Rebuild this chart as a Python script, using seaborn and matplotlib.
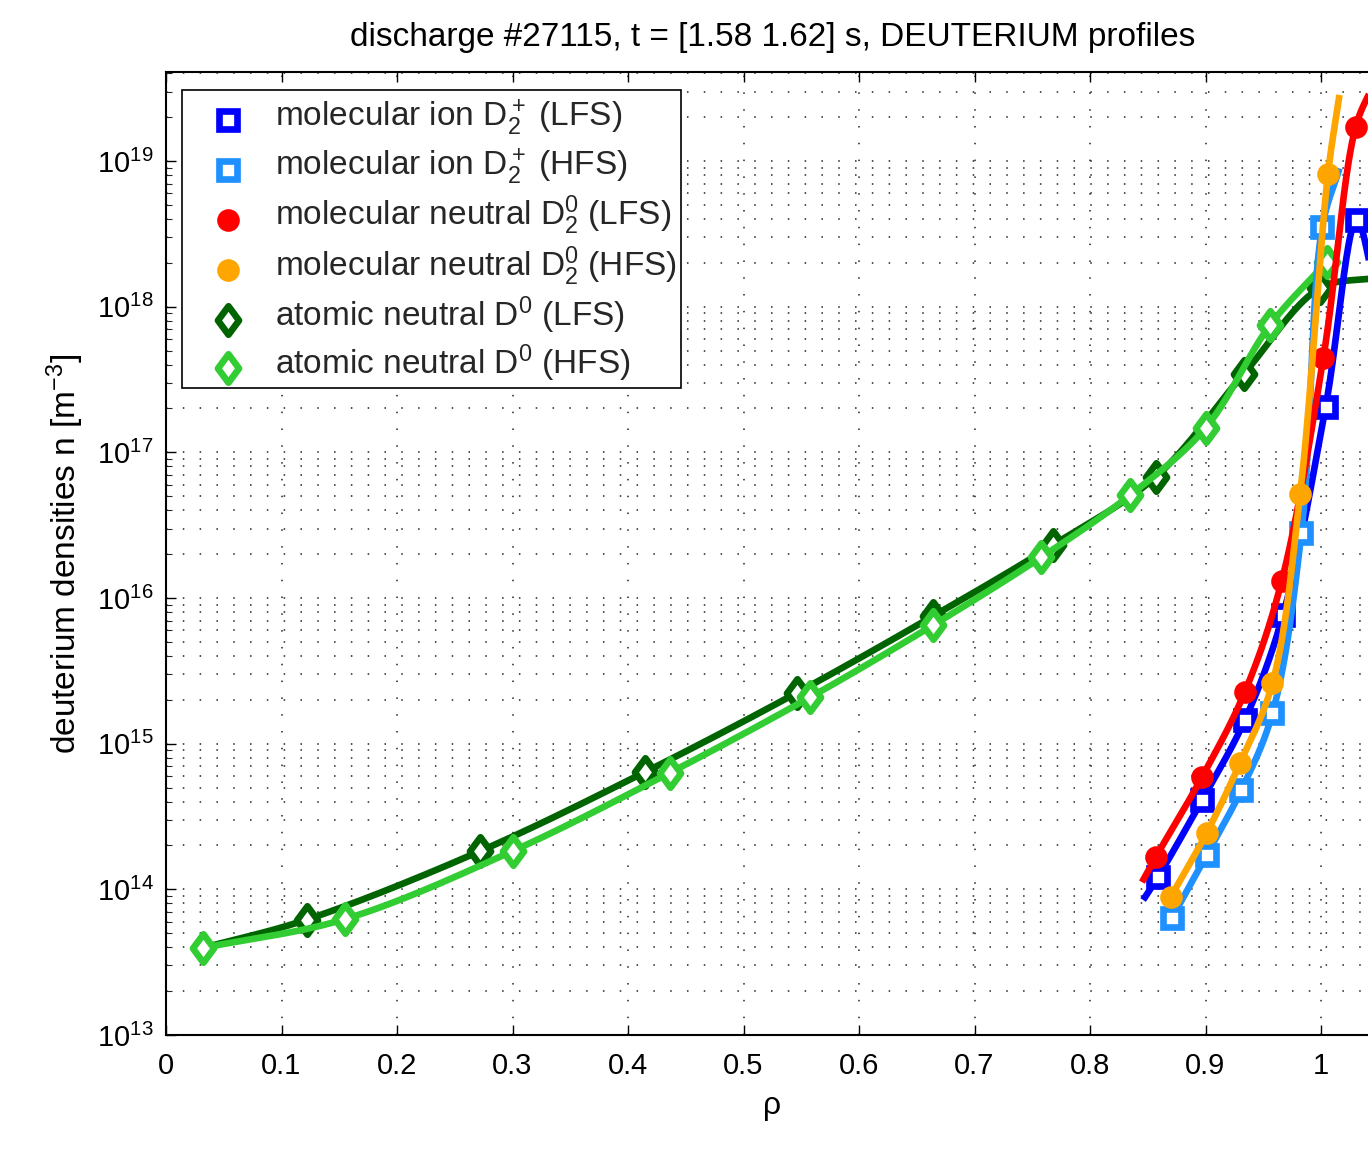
import numpy as np
import pandas as pd
import matplotlib
matplotlib.use("Agg")
import matplotlib.pyplot as plt
import seaborn as sns
from matplotlib.lines import Line2D
from matplotlib.markers import MarkerStyle
from matplotlib.path import Path
from matplotlib.legend_handler import HandlerLine2D
from matplotlib.ticker import FixedLocator, LogFormatterMathtext, NullFormatter

# ---------------- data ----------------
# molecular ion D2+ (LFS)
rho_ion_lfs = [0.859, 0.897, 0.934, 0.967, 1.004, 1.031]
n_ion_lfs = [1.22e14, 4.1e14, 1.45e15, 7.6e15, 2.05e17, 3.94e18]
fit_ion_lfs_rho = [0.846, 0.859, 0.897, 0.934, 0.967, 1.004, 1.031, 1.045]
fit_ion_lfs_n = [8.45e13, 1.22e14, 4.1e14, 1.45e15, 7.6e15, 2.05e17, 3.94e18, 1.6e18]

# molecular ion D2+ (HFS)
rho_ion_hfs = [0.871, 0.901, 0.931, 0.958, 0.983, 1.001]
n_ion_hfs = [6.36e13, 1.72e14, 4.81e14, 1.62e15, 2.8e16, 3.5e18]
fit_ion_hfs_rho = [0.871, 0.901, 0.931, 0.958, 0.983, 1.001, 1.016]
fit_ion_hfs_n = [6.36e13, 1.72e14, 4.81e14, 1.62e15, 2.8e16, 3.5e18, 8.9e18]

# molecular neutral D2^0 (LFS)
rho_mol_lfs = [0.857, 0.897, 0.934, 0.966, 1.002, 1.030]
n_mol_lfs = [1.67e14, 5.9e14, 2.26e15, 1.31e16, 4.44e17, 1.71e19]
fit_mol_lfs_rho = [0.845, 0.857, 0.897, 0.934, 0.966, 1.002, 1.030, 1.045]
fit_mol_lfs_n = [1.12e14, 1.67e14, 5.9e14, 2.26e15, 1.31e16, 4.44e17, 1.71e19, 3.3e19]

# molecular neutral D2^0 (HFS)
rho_mol_hfs = [0.870, 0.901, 0.930, 0.958, 0.982, 1.006]
n_mol_hfs = [8.9e13, 2.44e14, 7.4e14, 2.61e15, 5.2e16, 8.1e18]
fit_mol_hfs_rho = [0.870, 0.901, 0.930, 0.958, 0.982, 1.006, 1.016]
fit_mol_hfs_n = [8.9e13, 2.44e14, 7.4e14, 2.61e15, 5.2e16, 8.1e18, 2.84e19]

# atomic neutral D0 (LFS)
rho_at_lfs = [0.122, 0.272, 0.415, 0.546, 0.664, 0.768, 0.857, 0.933, 0.999]
n_at_lfs = [6.2e13, 1.83e14, 6.4e14, 2.23e15, 7.5e15, 2.31e16, 6.8e16, 3.45e17, 1.34e18]
fit_at_lfs_rho = [0.032, 0.122, 0.272, 0.415, 0.546, 0.664, 0.768, 0.857, 0.933, 0.999, 1.045]
fit_at_lfs_n = [3.96e13, 6.2e13, 1.83e14, 6.4e14, 2.23e15, 7.5e15, 2.31e16, 6.8e16, 3.45e17, 1.34e18, 1.57e18]

# atomic neutral D0 (HFS)
rho_at_hfs = [0.032, 0.155, 0.300, 0.436, 0.558, 0.664, 0.758, 0.835, 0.900, 0.956, 1.005]
n_at_hfs = [3.96e13, 6.25e13, 1.83e14, 6.3e14, 2.09e15, 6.5e15, 1.91e16, 5.1e16, 1.47e17, 7.5e17, 2.03e18]

labels = [
    r"molecular ion D$_2^+$ (LFS)",
    r"molecular ion D$_2^+$ (HFS)",
    r"molecular neutral D$_2^0$ (LFS)",
    r"molecular neutral D$_2^0$ (HFS)",
    r"atomic neutral D$^0$ (LFS)",
    r"atomic neutral D$^0$ (HFS)",
]
colors = ["#0000FF", "#1E90FF", "#FF0000", "#FFA500", "#006400", "#32CD32"]

yticks_major = [1e13, 1e14, 1e15, 1e16, 1e17, 1e18, 1e19]
xticks = [0.0, 0.1, 0.2, 0.3, 0.4, 0.5, 0.6, 0.7, 0.8, 0.9, 1.0]
xticklabels = ["0", "0.1", "0.2", "0.3", "0.4", "0.5", "0.6", "0.7", "0.8", "0.9", "1"]

title = "discharge #27115, t = [1.58 1.62] s, DEUTERIUM profiles"
xlabel = "\u03c1"
ylabel = r"deuterium densities n [m$^{-3}$]"

# ---------------- style ----------------
sns.set_theme(style="white")
FONT = ["Liberation Sans", "DejaVu Sans"]
plt.rcParams["font.family"] = FONT
plt.rcParams["mathtext.fontset"] = "custom"
plt.rcParams["mathtext.rm"] = FONT[0]
plt.rcParams["mathtext.it"] = FONT[0]
plt.rcParams["mathtext.default"] = "regular"

W, H = 1368, 1160
fig = plt.figure(figsize=(W / 100, H / 100), dpi=100)
fig.patch.set_facecolor("white")

x0, x1 = 0.0, 1.05
px_per_unit = 1155.0
ax_left = 166 / W
ax_bottom = 1 - 1035 / H
ax_h = (1035 - 72) / H
ax_w = (x1 - x0) * px_per_unit / W
ax = fig.add_axes([ax_left, ax_bottom, ax_w, ax_h])
ax.set_facecolor("white")
ax.set_yscale("log")
ax.set_xlim(x0, x1)
ymax = 10 ** 19.611
ax.set_ylim(1e13, ymax)

LW = 4.8


def smooth(xs, ys, n=40, alpha=0.5):
    """Centripetal Catmull-Rom through the given points (in screen-like space)."""
    P = np.column_stack([np.asarray(xs) * 1155.0, np.log10(ys) * 145.67])
    P = np.vstack([2 * P[0] - P[1], P, 2 * P[-1] - P[-2]])
    out = []
    for i in range(len(P) - 3):
        p0, p1, p2, p3 = P[i:i + 4]
        t0 = 0.0
        t1 = t0 + np.linalg.norm(p1 - p0) ** alpha
        t2 = t1 + np.linalg.norm(p2 - p1) ** alpha
        t3 = t2 + np.linalg.norm(p3 - p2) ** alpha
        t = np.linspace(t1, t2, n)[:, None]
        A1 = (t1 - t) / (t1 - t0) * p0 + (t - t0) / (t1 - t0) * p1
        A2 = (t2 - t) / (t2 - t1) * p1 + (t - t1) / (t2 - t1) * p2
        A3 = (t3 - t) / (t3 - t2) * p2 + (t - t2) / (t3 - t2) * p3
        B1 = (t2 - t) / (t2 - t0) * A1 + (t - t0) / (t2 - t0) * A2
        B2 = (t3 - t) / (t3 - t1) * A2 + (t - t1) / (t3 - t1) * A3
        C = (t2 - t) / (t2 - t1) * B1 + (t - t1) / (t2 - t1) * B2
        out.append(C if i == 0 else C[1:])
    C = np.vstack(out)
    return C[:, 0] / 1155.0, 10 ** (C[:, 1] / 145.67)


diamond = MarkerStyle(Path([(0, 1), (0.74, 0), (0, -1), (-0.74, 0), (0, 1)],
                           [Path.MOVETO, Path.LINETO, Path.LINETO, Path.LINETO, Path.CLOSEPOLY]),
                      joinstyle="miter")
square = MarkerStyle("s", joinstyle="miter")

mk = {
    "sq": dict(marker=square, ms=13.0, mfc="white", mew=LW),
    "ci": dict(marker="o", ms=11.5, mew=LW),
    "di": dict(marker=diamond, ms=20.5, mfc="white", mew=LW),
}

series = [
    # (fit x, fit y, marker x, marker y, color, marker kind)
    (fit_at_lfs_rho, fit_at_lfs_n, rho_at_lfs, n_at_lfs, colors[4], "di"),
    (rho_at_hfs, n_at_hfs, rho_at_hfs, n_at_hfs, colors[5], "di"),
    (fit_ion_lfs_rho, fit_ion_lfs_n, rho_ion_lfs, n_ion_lfs, colors[0], "sq"),
    (fit_ion_hfs_rho, fit_ion_hfs_n, rho_ion_hfs, n_ion_hfs, colors[1], "sq"),
    (fit_mol_lfs_rho, fit_mol_lfs_n, rho_mol_lfs, n_mol_lfs, colors[2], "ci"),
    (fit_mol_hfs_rho, fit_mol_hfs_n, rho_mol_hfs, n_mol_hfs, colors[3], "ci"),
]

z = 3
for fx, fy, mx, my, c, kind in series:
    sx, sy = smooth(fx, fy)
    df = pd.DataFrame({"rho": sx, "n": sy})
    sns.lineplot(data=df, x="rho", y="n", sort=False, estimator=None, color=c,
                 lw=LW, ax=ax, zorder=z, solid_capstyle="butt")
    kw = dict(mk[kind])
    if kind == "ci":
        kw["mfc"] = c
    ax.plot(mx, my, ls="none", mec=c, zorder=z + 0.5, clip_on=True, **kw)
    z += 1

# ---------------- axes / grid ----------------
ax.set_xticks(xticks)
ax.set_xticklabels(xticklabels)
ax.set_xlim(x0, x1)
ax.yaxis.set_major_locator(FixedLocator(yticks_major))
minor = [m * d for d in yticks_major for m in range(2, 10) if m * d < ymax]
ax.yaxis.set_minor_locator(FixedLocator(minor))
ax.yaxis.set_major_formatter(LogFormatterMathtext())
ax.yaxis.set_minor_formatter(NullFormatter())
ax.set_ylim(1e13, ymax)

dot = (0, (1, 10))
ax.grid(True, which="major", axis="x", color="#222222", lw=1.1, ls=dot)
ax.grid(True, which="both", axis="y", color="#222222", lw=1.1, ls=dot)
ax.set_axisbelow(True)

for s in ax.spines.values():
    s.set_color("black")
    s.set_linewidth(1.5)

ax.tick_params(axis="both", which="major", direction="in", length=7, width=1.0,
               top=True, right=True, bottom=True, left=True, labelsize=21, colors="black")
ax.tick_params(axis="x", which="major", pad=12)
ax.tick_params(axis="y", which="major", pad=9)
ax.tick_params(axis="y", which="minor", direction="in", length=4, width=0.8, left=True, right=True)
ax.tick_params(axis="x", which="minor", bottom=False, top=False)

ax.set_title(title, fontsize=24, pad=18.5, color="black")
ax.set_xlabel(xlabel, fontsize=23, labelpad=8, color="black")
ax.set_ylabel(ylabel, fontsize=24, labelpad=8, color="black")


# ---------------- legend ----------------
class ShiftedHandler(HandlerLine2D):
    def create_artists(self, legend, orig_handle, xdescent, ydescent, width, height, fontsize, trans):
        arts = super().create_artists(legend, orig_handle, xdescent, ydescent, width, height, fontsize, trans)
        for a in arts:
            a.set_ydata(np.asarray(a.get_ydata(), float) - 7.5)
        return arts


kinds = ["sq", "sq", "ci", "ci", "di", "di"]
handles = []
for c, kind in zip(colors, kinds):
    kw = dict(mk[kind])
    if kind == "ci":
        kw["mfc"] = c
    handles.append(Line2D([], [], ls="none", mec=c, **kw))
leg = ax.legend(handles, labels, loc="upper left",
                bbox_to_anchor=(182 / W, 1 - 90 / H), bbox_transform=fig.transFigure,
                fontsize=24, frameon=True, fancybox=False, edgecolor="black", framealpha=1.0,
                borderpad=0.12, labelspacing=0.19, handlelength=2.52, handletextpad=0.14,
                handleheight=1.55, borderaxespad=0.0,
                handler_map={Line2D: ShiftedHandler()})
leg.get_frame().set_linewidth(1.2)
leg.set_zorder(20)

fig.savefig("out.png", dpi=100, facecolor="white")
